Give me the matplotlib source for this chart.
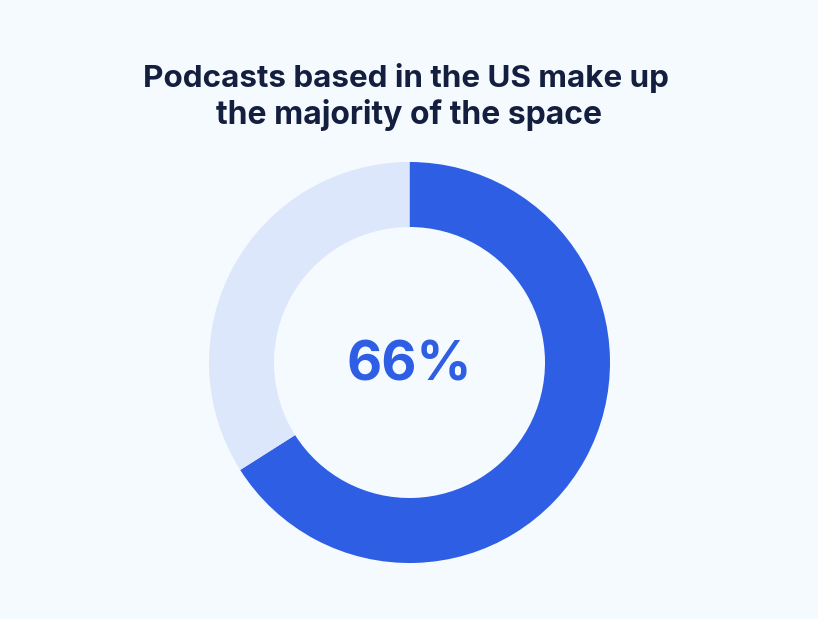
import matplotlib.pyplot as plt

# US share of podcasts vs the rest
values = [66, 34]
colors = ['#2e5ee4', '#dce7fc']
title_lines = ['Podcasts based in the US make up', 'the majority of the space']
center_label = '66%'

W, H = 818, 619
bg = '#f5faff'

fig = plt.figure(figsize=(W / 100, H / 100), dpi=100, facecolor=bg)
ax = fig.add_axes([0, 0, 1, 1])
ax.set_xlim(0, W)
ax.set_ylim(H, 0)
ax.axis('off')

# y axis is flipped so the pie needs counterclock=True to run clockwise on screen
ax.pie(values, colors=colors, center=(409.5, 362.5), radius=200.5, startangle=270,
       counterclock=True, frame=True, wedgeprops={'width': 65, 'linewidth': 0})
ax.set_xlim(0, W)
ax.set_ylim(H, 0)
ax.set_aspect('auto')
ax.axis('off')

# second line runs a bit wider in the reference font, so it gets its own size
for line, x, y, size in zip(title_lines, [406, 409.5], [78, 115], [22.6, 23]):
    ax.text(x, y, line, ha='center', va='center', fontsize=size, fontweight='bold',
            family='Inter', color='#141f3f')
ax.text(409.5, 366, center_label, ha='center', va='center', fontsize=39, fontweight='bold',
        family='Inter', color=colors[0])

fig.savefig('out.png', dpi=100, facecolor=bg)
